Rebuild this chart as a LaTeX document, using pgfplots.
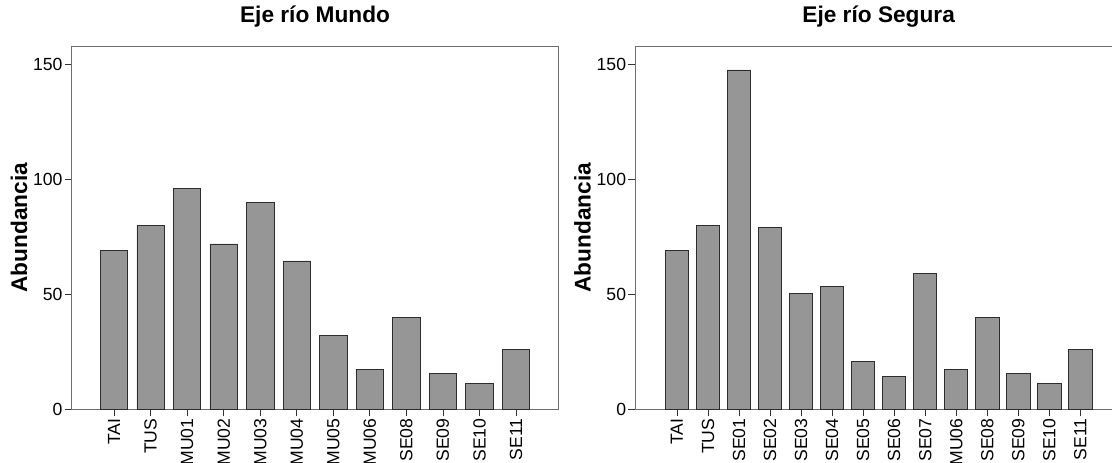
\documentclass[border=0pt]{standalone}
\usepackage{pgfplots}
\pgfplotsset{compat=1.18}
\usepackage{fontspec}
\setmainfont{Liberation Sans}
\definecolor{barfill}{RGB}{150,150,150}
\definecolor{baredge}{RGB}{45,45,45}
\definecolor{framec}{RGB}{110,110,110}

\pgfplotsset{mystyle/.style={
  scale only axis, width=365pt, height=272.25pt,
  ymin=0, ymax=158, ytick={0,50,100,150},
  xtick=data,
  tick align=outside, tick pos=left,
  major tick length=5.25pt,
  axis line style={framec, line width=1pt},
  every tick/.style={black!80, line width=0.6pt},
  tick label style={font=\fontsize{13.2}{15}\selectfont},
  /pgf/number format/assume math mode=true,
  xticklabel style={rotate=90, anchor=east, inner sep=1.5pt},
  yticklabel style={inner sep=1.5pt},
  title style={font=\bfseries\fontsize{17}{20}\selectfont, at={(axis description cs:0.5,1)}, anchor=base, yshift=11.5pt},
  ylabel style={font=\bfseries\fontsize{17}{20}\selectfont, at={(axis description cs:-0.0918,0.5)}, anchor=base},
  ylabel=Abundancia,
  ybar, bar width=0.75,
}}

\pgfplotstableread{
x y
0 69
1 80
2 96
3 72
4 90
5 64.6
6 32
7 17.3
8 40
9 15.7
10 11.3
11 26
}\mundo

\pgfplotstableread{
x y
0 69
1 80
2 147.7
3 79
4 50.4
5 53.3
6 21
7 14.4
8 59
9 17.3
10 40
11 15.7
12 11.3
13 26
}\segura

\begin{document}
\begin{tikzpicture}
\begin{axis}[mystyle, at={(53.78pt,-306.98pt)}, anchor=south west,
  xmin=-1.16, xmax=12.16,
  xticklabels={TAI,TUS,MU01,MU02,MU03,MU04,MU05,MU06,SE08,SE09,SE10,SE11},
  title={Eje río Mundo}]
\addplot[fill=barfill, draw=baredge, line width=0.6pt] table[x=x,y=y] {\mundo};
\end{axis}
\begin{axis}[mystyle, at={(476.48pt,-306.98pt)}, anchor=south west,
  xmin=-1.34, xmax=14.34,
  xticklabels={TAI,TUS,SE01,SE02,SE03,SE04,SE05,SE06,SE07,MU06,SE08,SE09,SE10,SE11},
  title={Eje río Segura}]
\addplot[fill=barfill, draw=baredge, line width=0.6pt] table[x=x,y=y] {\segura};
\end{axis}
\pgfresetboundingbox
\path[use as bounding box] (0,0) rectangle (834pt,-346.5pt);
\end{tikzpicture}
\end{document}
